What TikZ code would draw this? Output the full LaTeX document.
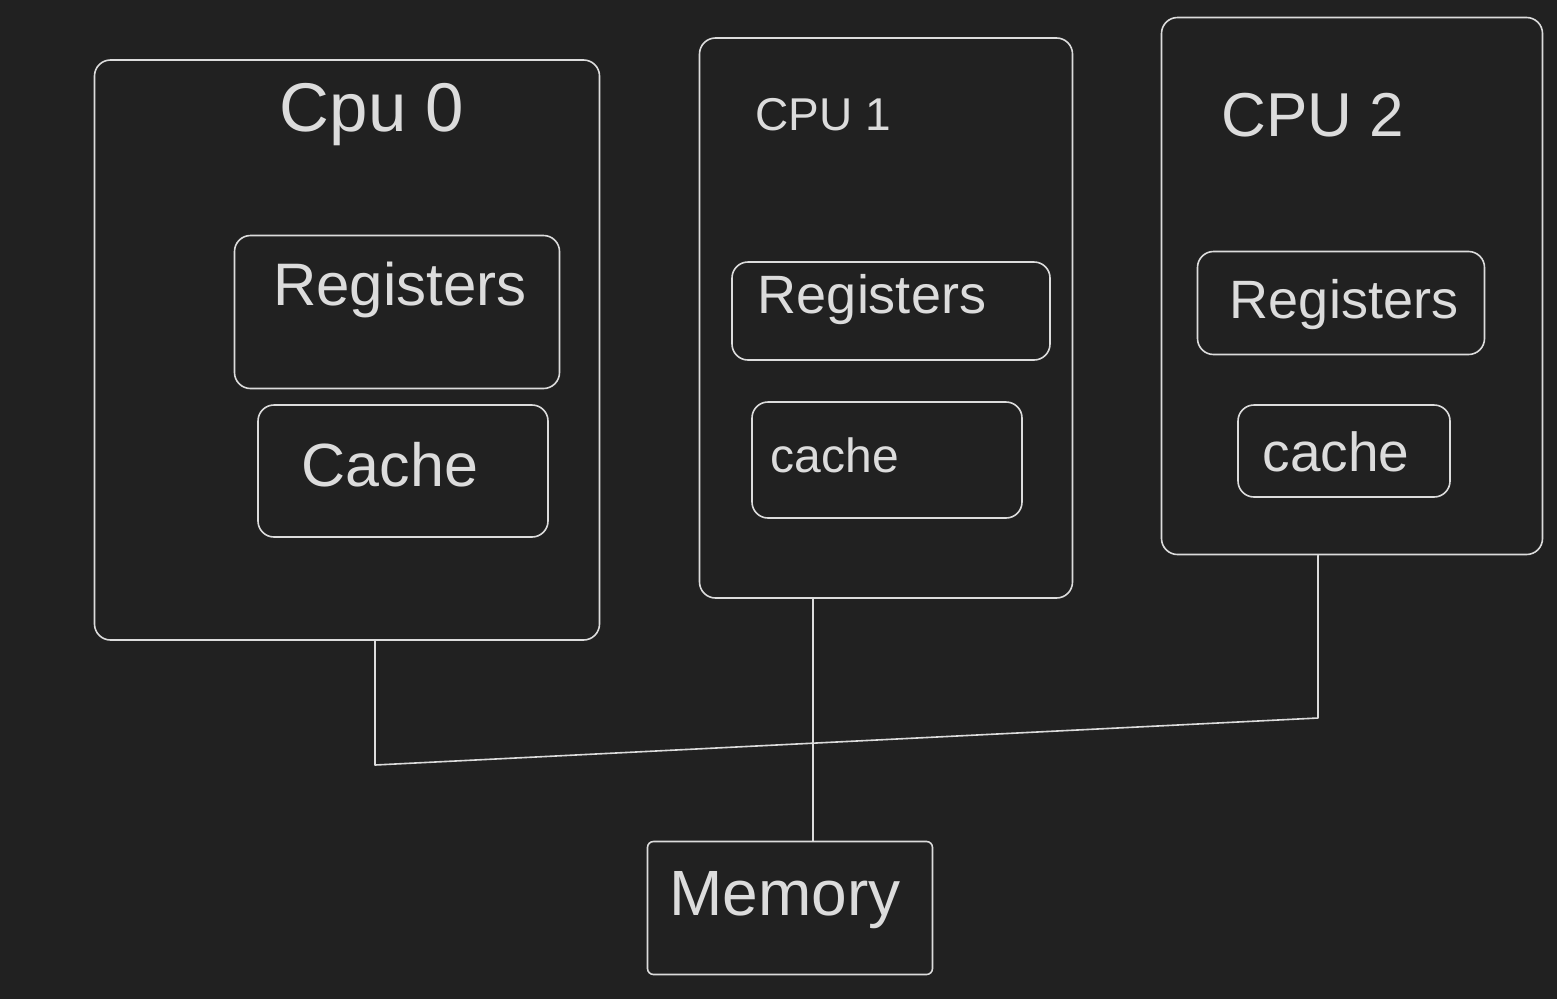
\documentclass[tikz,border=0pt]{standalone}
\usepackage{fontspec}
\setmainfont{Liberation Sans}
\definecolor{bgc}{HTML}{212121}
\definecolor{inkc}{HTML}{DCDCDC}
\newcommand{\fsz}[1]{\fontsize{#1}{#1}\selectfont}
\begin{document}
\begin{tikzpicture}[x=1pt,y=-1pt,
  sk/.style={draw=inkc, line width=1.6pt, line cap=round, line join=round},
  box/.style={sk, rounded corners=16pt, inner sep=0pt},
  lbl/.style={text=inkc, inner sep=0pt}]
\fill[bgc] (0,0) rectangle (1557,999);
\useasboundingbox (0,0) rectangle (1557,999);
% CPU boxes
\node[box, minimum width=505pt, minimum height=580pt] (cpu0) at (347,350) {};
\node[box, minimum width=373pt, minimum height=560pt] (cpu1) at (886,318) {};
\node[box, minimum width=381pt, minimum height=537pt] (cpu2) at (1352,286) {};
\node[lbl, font=\fsz{69}] (t0) at (372,115) {Cpu 0};
\node[lbl, font=\fsz{46}] (t1) at (823,115) {CPU 1};
\node[lbl, font=\fsz{62}] (t2) at (1313,115) {CPU 2};
% registers
\node[box, minimum width=325pt, minimum height=153pt] (reg0) at (397,312) {};
\node[box, minimum width=318pt, minimum height=98pt] (reg1) at (891,311) {};
\node[box, minimum width=287pt, minimum height=103pt] (reg2) at (1341,303) {};
\node[lbl, font=\fsz{60}] (rt0) at (400,290) {Registers};
\node[lbl, font=\fsz{54}] (rt1) at (872,300) {Registers};
\node[lbl, font=\fsz{54}] (rt2) at (1344,305) {Registers};
% caches
\node[box, minimum width=290pt, minimum height=132pt] (cache0) at (403,471) {};
\node[box, minimum width=270pt, minimum height=116pt] (cache1) at (887,460) {};
\node[box, minimum width=212pt, minimum height=92pt] (cache2) at (1344,451) {};
\node[lbl, font=\fsz{61}] (ct0) at (390,465) {Cache};
\node[lbl, font=\fsz{48}] (ct1) at (835,455) {cache};
\node[lbl, font=\fsz{55}] (ct2) at (1336,452) {cache};
% memory
\node[box, rounded corners=6pt, minimum width=285pt, minimum height=133pt] (mem) at (790,908) {};
\node[lbl, font=\fsz{64}] (mt) at (785,900) {Memory};
% bus
\coordinate (b0) at (375,765);
\coordinate (b2) at (1318,718);
\draw[sk] (cpu0.south -| b0) -- (b0) -- (b2) -- (cpu2.south -| b2);
\coordinate (m1) at (813,0);
\draw[sk] (cpu1.south -| m1) -- (mem.north -| m1);
\end{tikzpicture}
\end{document}
